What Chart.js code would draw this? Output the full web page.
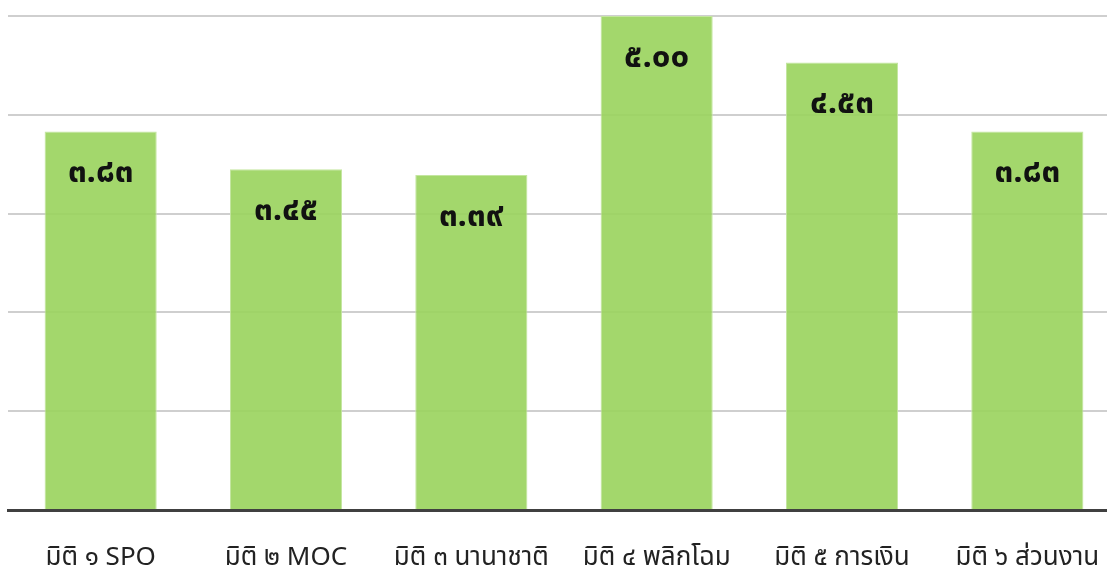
<!DOCTYPE html>
<html>
<head>
<meta charset="utf-8">
<script src="https://cdn.jsdelivr.net/npm/chart.js@4"></script>
<style>
  html, body { margin: 0; padding: 0; background: #fff; overflow: hidden; }
  /* the original plot runs a little past the right edge of the picture */
  #wrap { width: 1120px; height: 568px; position: relative; }
</style>
</head>
<body>
<div id="wrap"><canvas id="chart"></canvas></div>
<script>
const categories = ['มิติ ๑ SPO', 'มิติ ๒ MOC', 'มิติ ๓ นานาชาติ', 'มิติ ๔ พลิกโฉม', 'มิติ ๕ การเงิน', 'มิติ ๖ ส่วนงาน'];
const scores = [3.83, 3.45, 3.39, 5.00, 4.53, 3.83];
const yTicks = [0, 1, 2, 3, 4, 5];

const thaiFont = "'Noto Sans Thai', 'Noto Sans Thai Looped', 'Loma', 'Garuda', 'Noto Sans', sans-serif";
const thaiDigits = '๐๑๒๓๔๕๖๗๘๙';

function toThai(v) {
    return v.toFixed(2).replace(/[0-9]/g, d => thaiDigits[d]);
}

// value labels inside the top of each bar
const barLabels = {
    id: 'barLabels',
    afterDatasetsDraw(chart) {
        const ctx = chart.ctx;
        const meta = chart.getDatasetMeta(0);
        ctx.save();
        ctx.font = 'bold 33px ' + thaiFont;
        ctx.fillStyle = '#111';
        ctx.textAlign = 'center';
        ctx.textBaseline = 'middle';
        meta.data.forEach((bar, i) => {
            ctx.fillText(toThai(scores[i]), bar.x, bar.y + 44);
        });
        ctx.restore();
    }
};

new Chart(document.getElementById('chart'), {
    type: 'bar',
    data: {
        labels: categories,
        datasets: [{
            data: scores,
            backgroundColor: 'rgba(153, 211, 92, 0.9)',
            borderColor: '#c4e6a0',
            borderWidth: 1,
            categoryPercentage: 0.605,
            barPercentage: 1.0
        }]
    },
    options: {
        responsive: true,
        maintainAspectRatio: false,
        animation: false,
        layout: { padding: { left: 8, right: 0, top: 16, bottom: 0 } },
        plugins: {
            legend: { display: false },
            tooltip: { enabled: false }
        },
        scales: {
            x: {
                grid: { display: false },
                border: { color: '#404040', width: 3 },
                ticks: {
                    color: '#222',
                    padding: 26,
                    font: { family: thaiFont, size: 26 }
                },
                afterFit: axis => {
                    axis.height = 58;
                    axis.paddingLeft = 0;
                    axis.paddingRight = 0;
                }
            },
            y: {
                min: 0,
                max: 5,
                afterBuildTicks: axis => { axis.ticks = yTicks.map(v => ({ value: v })); },
                ticks: { display: false },
                border: { display: false },
                grid: {
                    color: c => c.tick.value === 0 ? 'rgba(0,0,0,0)' : '#cfcfcf',
                    lineWidth: 2,
                    drawTicks: false
                }
            }
        }
    },
    plugins: [barLabels]
});
</script>
</body>
</html>
